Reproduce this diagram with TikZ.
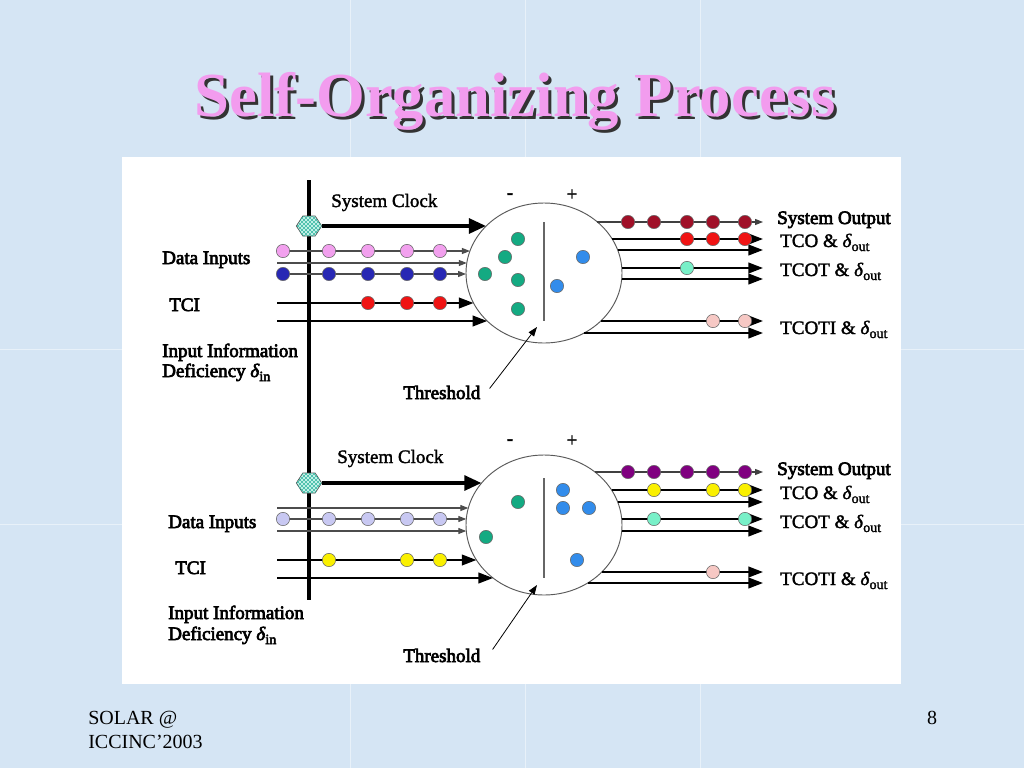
\documentclass[tikz,border=0pt]{standalone}
\usepackage{fontspec}
\setmainfont{Liberation Serif}
\newfontfamily\hv[FakeBold=3.5]{Liberation Serif}
\newfontfamily\md[FakeBold=1.8]{Liberation Serif}
\usetikzlibrary{arrows.meta,shapes.geometric,patterns,calc}
\definecolor{bgblue}{RGB}{213,229,244}
\definecolor{titlepink}{RGB}{242,156,238}
\definecolor{hexfill}{RGB}{205,245,236}
\definecolor{hexline}{RGB}{60,185,165}
\definecolor{pinkdot}{RGB}{242,160,238}
\definecolor{navydot}{RGB}{40,40,180}
\definecolor{reddot}{RGB}{240,20,20}
\definecolor{greendot}{RGB}{20,170,130}
\definecolor{bluedot}{RGB}{50,140,235}
\definecolor{darkred}{RGB}{160,16,40}
\definecolor{aquadot}{RGB}{120,240,200}
\definecolor{ltpink}{RGB}{246,200,196}
\definecolor{lavdot}{RGB}{200,200,242}
\definecolor{yellowdot}{RGB}{250,240,0}
\definecolor{purpledot}{RGB}{128,0,128}
\newcommand\bpt[4]{\coordinate (#1) at ($(#2.center)+({(#3)*78*sqrt(1-((#4)/70)^2)},{#4})$);}
\newcommand\hexat[1]{\path[hexpath] (#1.west) -- ($(#1.north west)+(6.5,0)$) -- ($(#1.north east)+(-6.5,0)$) -- (#1.east) -- ($(#1.south east)+(-6.5,0)$) -- ($(#1.south west)+(6.5,0)$) -- cycle;}
\newcommand\dsub[1]{\textit{δ}\raisebox{-3pt}{\fontsize{10.5}{11}\selectfont #1}}
\begin{document}
\begin{tikzpicture}[x=0.75pt,y=-0.75pt,
  lbl/.style={font=\fontsize{14.25}{17}\selectfont\md, inner sep=0, text=black},
  hlbl/.style={font=\fontsize{14.25}{17}\selectfont\hv, inner sep=0, text=black},
  ell/.style={ellipse, draw=black!65, line width=0.7pt, fill=white, minimum width=117pt, minimum height=105pt, inner sep=0},
  dot/.style={circle, inner sep=0, minimum size=10pt, draw=black!60, line width=0.4pt},
  hexbox/.style={rectangle, minimum width=19pt, minimum height=15pt, inner sep=0, outer sep=0},
  hexpath/.style={draw=black!70, line width=0.5pt, fill=hexfill,
     postaction={pattern=north east lines, pattern color=hexline},
     postaction={pattern=north west lines, pattern color=hexline}},
  bus/.style={line width=3pt, black},
  clock/.style={line width=3pt, black, -{Triangle[length=13pt,width=11pt]}},
  thinin/.style={line width=0.8pt, black!70, -{Triangle[length=6pt,width=4.5pt]}},
  thickin/.style={line width=1.5pt, black, -{Triangle[length=11pt,width=8pt]}},
  thinout/.style={line width=0.8pt, black!75, -{Triangle[length=6pt,width=4.5pt]}},
  thickout/.style={line width=1.5pt, black, -{Triangle[length=11pt,width=8pt]}},
  thr/.style={line width=1.1pt, black!60},
  thrarrow/.style={line width=0.6pt, black, -{Triangle[length=7pt,width=5pt]}},
  titlefont/.style={font=\fontsize{47}{50}\selectfont\bfseries, inner sep=0},
  foot/.style={font=\fontsize{15}{17}\selectfont, inner sep=0}
]
\useasboundingbox (0,0) rectangle (1024,768);
\fill[bgblue] (0,0) rectangle (1024,768);
\foreach \xx in {350,525,700} \draw[white!45!bgblue, line width=0.6pt] (\xx,0) -- (\xx,768);
\foreach \yy in {349,524} \draw[white!45!bgblue, line width=0.6pt] (0,\yy) -- (1024,\yy);

% title
\node[titlefont, text=black!80, anchor=base] (tshadow) at (518,119) {Self-Organizing Process};
\node[titlefont, text=titlepink, anchor=base] (title) at (515,116) {Self-Organizing Process};

% white panel
\fill[white] (122,157) rectangle (901,684);

% ellipses
\node[ell] (c1) at (544,273) {};
\node[ell] (c2) at (544,525) {};

% thresholds
\coordinate (th1a) at (544,222); \coordinate (th1b) at (544,321);
\coordinate (th2a) at (544,478); \coordinate (th2b) at (544,578);
\draw[thr] (th1a) -- (th1b);
\draw[thr] (th2a) -- (th2b);
\node[lbl, anchor=center] (mn1) at (510,196) {-};
\node[lbl, anchor=center] (pl1) at (572,195) {+};
\node[lbl, anchor=center] (mn2) at (510,442) {-};
\node[lbl, anchor=center] (pl2) at (572,441) {+};
\node[hlbl, anchor=base west] (thr1) at (403,399) {Threshold};
\node[hlbl, anchor=base west] (thr2) at (403,662) {Threshold};
\coordinate (th1tip) at (537,327);
\coordinate (th2tip) at (537,585);
\draw[thrarrow] ($(thr1.east)+(9,-4)$) -- (th1tip);
\draw[thrarrow] ($(thr2.east)+(12,-6)$) -- (th2tip);

% bus and clock
\coordinate (busT) at (309,180); \coordinate (busB) at (309,600);
\draw[bus] (busT) -- (busB);
\node[hexbox] (hex1) at (309,226) {};
\node[hexbox] (hex2) at (309,483) {};
\hexat{hex1}
\hexat{hex2}
\bpt{ck1}{c1}{-1}{-47}
\bpt{ck2}{c2}{-1}{-42}
\draw[clock] (hex1.east) -- (ck1);
\draw[clock] (hex2.east) -- (ck2);
\node[lbl, anchor=base west] (sc1) at (331,207) {System Clock};
\node[lbl, anchor=base west] (sc2) at (337,463) {System Clock};

% ---------- top inputs
\coordinate (a1s) at (277,251); \bpt{a1e}{c1}{-1}{-22}
\coordinate (a2s) at (277,263); \bpt{a2e}{c1}{-1}{-10}
\coordinate (a3s) at (277,274); \bpt{a3e}{c1}{-1}{1}
\coordinate (a4s) at (277,303); \bpt{a4e}{c1}{-1}{30}
\coordinate (a5s) at (277,321); \bpt{a5e}{c1}{-1}{48}
\draw[thinin] (a1s) -- (a1e);
\draw[thinin] (a2s) -- (a2e);
\draw[thinin] (a3s) -- (a3e);
\draw[thickin] (a4s) -- (a4e);
\draw[thickin] (a5s) -- (a5e);
\foreach \xx [count=\i] in {283,329,368,407,440} {
  \node[dot, fill=pinkdot] (pa\i) at (\xx,251) {};
  \node[dot, fill=navydot] (na\i) at (\xx,274) {};
}
\foreach \xx [count=\i] in {368,407,440} \node[dot, fill=reddot] (ra\i) at (\xx,303) {};

% ---------- bottom inputs
\coordinate (b1s) at (277,508); \bpt{b1e}{c2}{-1}{-17}
\coordinate (b2s) at (277,519); \bpt{b2e}{c2}{-1}{-6}
\coordinate (b3s) at (277,531); \bpt{b3e}{c2}{-1}{6}
\coordinate (b4s) at (277,560); \bpt{b4e}{c2}{-1}{35}
\coordinate (b5s) at (277,578); \bpt{b5e}{c2}{-1}{53}
\draw[thinin] (b1s) -- (b1e);
\draw[thinin] (b2s) -- (b2e);
\draw[thinin] (b3s) -- (b3e);
\draw[thickin] (b4s) -- (b4e);
\draw[thickin] (b5s) -- (b5e);
\foreach \xx [count=\i] in {283,329,368,407,440} \node[dot, fill=lavdot] (lb\i) at (\xx,519) {};
\foreach \xx [count=\i] in {329,407,440} \node[dot, fill=yellowdot] (yb\i) at (\xx,560) {};

% ---------- top outputs
\bpt{o1s}{c1}{1}{-51} \coordinate (o1e) at (763,222);
\bpt{o2s}{c1}{1}{-34} \coordinate (o2e) at (763,239);
\bpt{o3s}{c1}{1}{-23} \coordinate (o3e) at (763,250);
\bpt{o4s}{c1}{1}{-5}  \coordinate (o4e) at (763,268);
\bpt{o5s}{c1}{1}{6}   \coordinate (o5e) at (763,279);
\bpt{o6s}{c1}{1}{48}  \coordinate (o6e) at (763,321);
\bpt{o7s}{c1}{1}{60}  \coordinate (o7e) at (763,333);
\draw[thinout] (o1s) -- (o1e);
\foreach \k in {2,...,7} \draw[thickout] (o\k s) -- (o\k e);
\foreach \xx [count=\i] in {628,654,687,713,745} \node[dot, fill=darkred] (dr\i) at (\xx,222) {};
\foreach \xx [count=\i] in {687,713,745} \node[dot, fill=reddot] (rt\i) at (\xx,239) {};
\node[dot, fill=aquadot] (aq1) at (687,268) {};
\node[dot, fill=ltpink] (lp1) at (713,321) {};
\node[dot, fill=ltpink] (lp2) at (745,321) {};

% ---------- bottom outputs
\bpt{p1s}{c2}{1}{-53} \coordinate (p1e) at (763,472);
\bpt{p2s}{c2}{1}{-35} \coordinate (p2e) at (763,490);
\bpt{p3s}{c2}{1}{-23} \coordinate (p3e) at (763,502);
\bpt{p4s}{c2}{1}{-6}  \coordinate (p4e) at (763,519);
\bpt{p5s}{c2}{1}{6}   \coordinate (p5e) at (763,531);
\bpt{p6s}{c2}{1}{47}  \coordinate (p6e) at (763,572);
\bpt{p7s}{c2}{1}{58}  \coordinate (p7e) at (763,583);
\draw[thinout] (p1s) -- (p1e);
\foreach \k in {2,...,7} \draw[thickout] (p\k s) -- (p\k e);
\foreach \xx [count=\i] in {628,654,687,713,745} \node[dot, fill=purpledot] (pu\i) at (\xx,472) {};
\foreach \xx [count=\i] in {654,713,745} \node[dot, fill=yellowdot] (yo\i) at (\xx,490) {};
\node[dot, fill=aquadot] (aq2) at (654,519) {};
\node[dot, fill=aquadot] (aq3) at (745,519) {};
\node[dot, fill=ltpink] (lp3) at (713,572) {};

% dots inside ellipses
\foreach \pp [count=\i] in {(518,239),(505,257),(485,274),(518,280),(518,309)} \node[dot, fill=greendot] (g1\i) at \pp {};
\foreach \pp [count=\i] in {(583,257),(557,286)} \node[dot, fill=bluedot] (u1\i) at \pp {};
\foreach \pp [count=\i] in {(518,502),(486,537)} \node[dot, fill=greendot] (g2\i) at \pp {};
\foreach \pp [count=\i] in {(563,490),(563,508),(589,508),(577,560)} \node[dot, fill=bluedot] (u2\i) at \pp {};

% left labels
\node[hlbl, anchor=base west] (di1) at (162,264) {Data Inputs};
\node[hlbl, anchor=base west] (tci1) at (169,311) {TCI};
\node[hlbl, anchor=base west] (ii1) at (162,357) {Input Information};
\node[hlbl, anchor=base west] (de1) at (162,377) {Deficiency \dsub{in}};
\node[hlbl, anchor=base west] (di2) at (168,528) {Data Inputs};
\node[hlbl, anchor=base west] (tci2) at (175,574) {TCI};
\node[hlbl, anchor=base west] (ii2) at (168,619) {Input Information};
\node[hlbl, anchor=base west] (de2) at (168,640) {Deficiency \dsub{in}};

% right labels
\node[hlbl, anchor=base west] (so1) at (777,224) {System Output};
\node[lbl, anchor=base west] (tco1) at (780,247) {TCO \& \dsub{out}};
\node[lbl, anchor=base west] (tcot1) at (780,276) {TCOT \& \dsub{out}};
\node[lbl, anchor=base west] (tcoti1) at (780,334) {TCOTI \& \dsub{out}};
\node[hlbl, anchor=base west] (so2) at (777,475) {System Output};
\node[lbl, anchor=base west] (tco2) at (780,499) {TCO \& \dsub{out}};
\node[lbl, anchor=base west] (tcot2) at (780,528) {TCOT \& \dsub{out}};
\node[lbl, anchor=base west] (tcoti2) at (780,585) {TCOTI \& \dsub{out}};

% footer
\node[foot, anchor=base west] (f1) at (88,724) {SOLAR @};
\node[foot, anchor=base west] (f2) at (88,748) {ICCINC'2003};
\node[foot, anchor=base] (pg) at (932,724) {8};
\end{tikzpicture}
\end{document}
